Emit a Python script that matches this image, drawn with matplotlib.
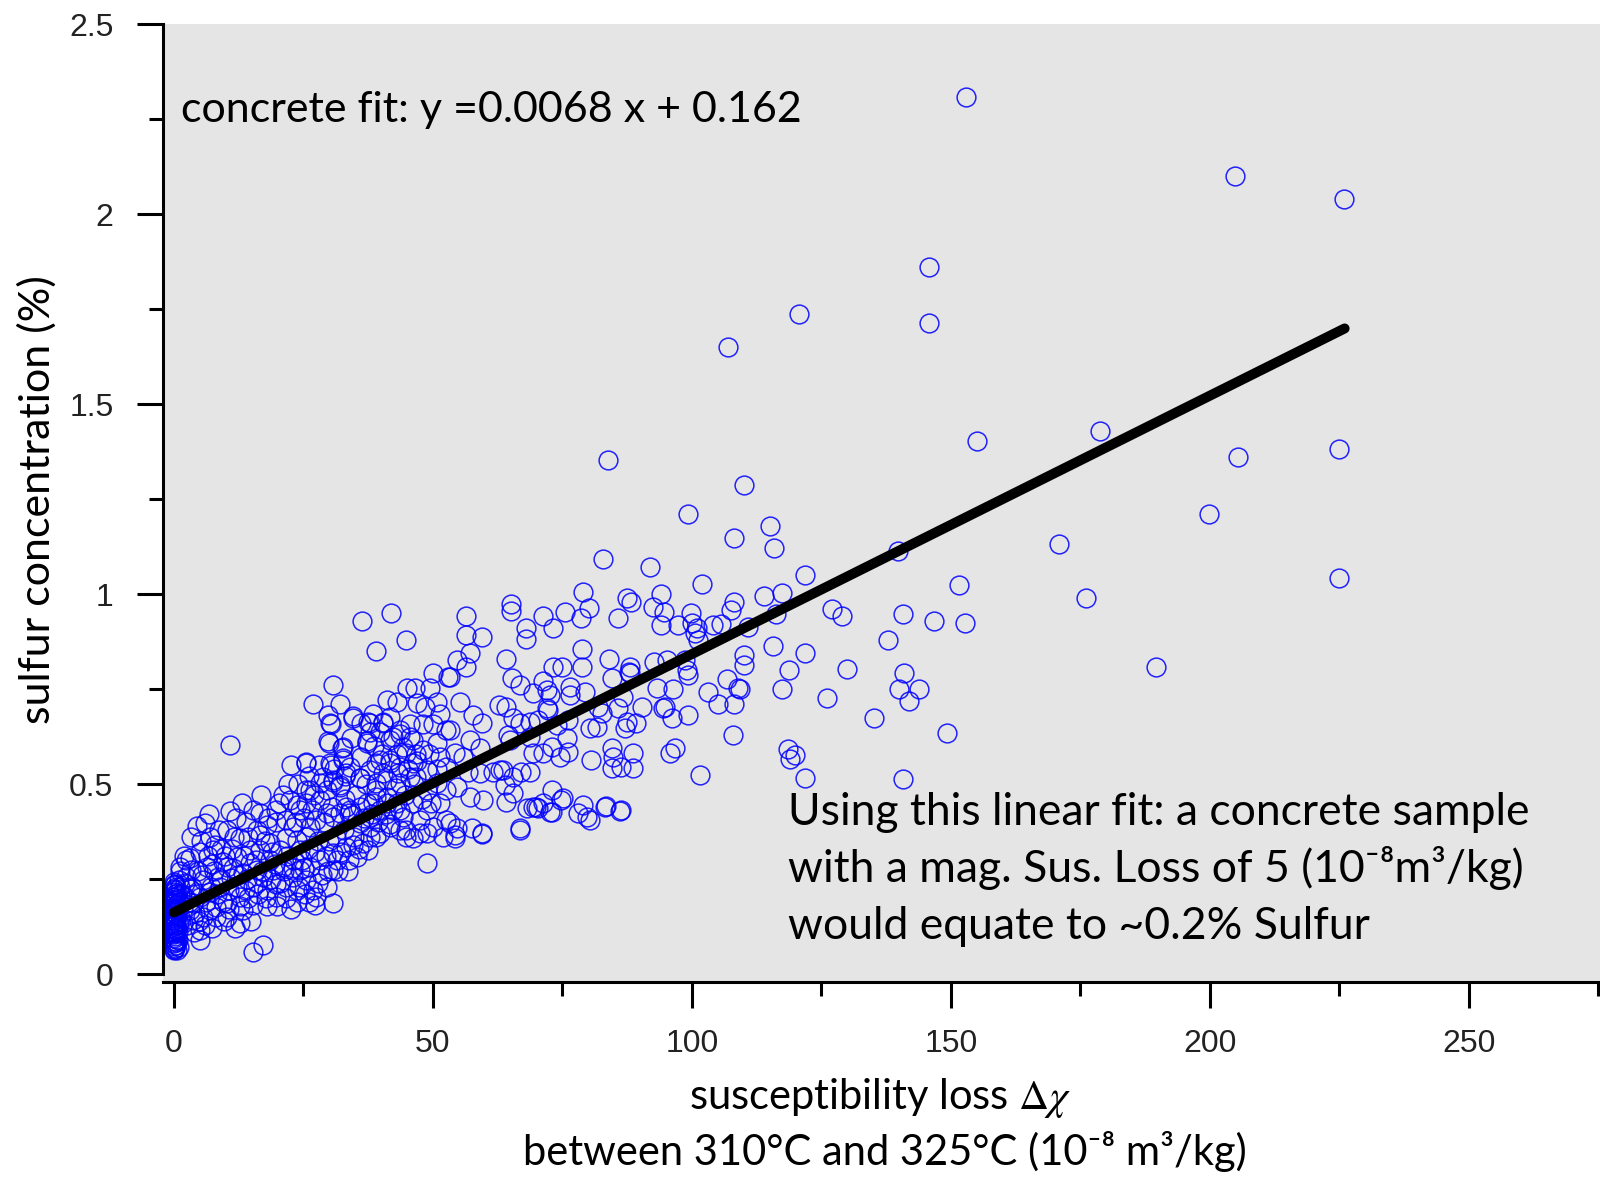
import matplotlib
matplotlib.use("Agg")
import matplotlib.pyplot as plt

# susceptibility loss (x) / sulfur concentration (y)
# samples with (almost) no loss -> solid blob at x = 0
zero_pts = [(0.0, 0.066), (0.3, 0.069), (0.1, 0.073), (0.5, 0.077), (0.0, 0.081), (0.4, 0.085),
            (0.2, 0.088), (0.6, 0.092), (0.0, 0.096), (0.3, 0.100), (0.1, 0.104), (0.5, 0.107),
            (0.0, 0.111), (0.4, 0.115), (0.2, 0.119), (0.6, 0.122), (0.0, 0.126), (0.3, 0.130),
            (0.1, 0.134), (0.5, 0.137), (0.0, 0.141), (0.4, 0.145), (0.2, 0.149), (0.6, 0.152),
            (0.0, 0.156), (0.3, 0.160), (0.1, 0.164), (0.5, 0.168), (0.0, 0.171), (0.4, 0.175),
            (0.2, 0.179), (0.6, 0.183), (0.0, 0.187), (0.3, 0.190), (0.1, 0.194), (0.5, 0.198),
            (0.0, 0.202), (0.4, 0.206), (0.2, 0.210), (0.6, 0.213), (0.0, 0.217), (0.3, 0.221),
            (0.1, 0.225), (0.5, 0.229), (0.0, 0.233), (0.2, 0.238), (0.1, 0.243), (1.0, 0.070),
            (0.8, 0.110), (1.1, 0.150), (0.9, 0.190), (1.2, 0.230), (0.7, 0.090), (1.0, 0.130),
            (0.8, 0.170), (1.1, 0.210), (0.9, 0.248), (0.0, 0.062), (0.6, 0.064)]

# low-loss cluster (x < ~53)
low_pts = [(10.8, 0.603), (6.0, 0.397), (10.2, 0.379), (12.0, 0.410), (6.9, 0.361), (3.1, 0.304),
           (5.0, 0.322), (7.6, 0.326), (3.4, 0.274), (6.3, 0.282), (9.5, 0.295), (12.1, 0.309),
           (14.7, 0.326), (15.3, 0.432), (16.6, 0.423), (17.9, 0.392), (19.8, 0.401), (12.7, 0.357),
           (14.4, 0.361), (16.6, 0.366), (10.2, 0.282), (8.6, 0.256), (5.7, 0.247), (3.1, 0.225),
           (5.0, 0.203), (6.9, 0.216), (8.9, 0.229), (11.1, 0.252), (13.4, 0.265), (16.0, 0.274),
           (18.5, 0.300), (20.5, 0.326), (21.7, 0.357), (21.1, 0.471), (22.4, 0.458), (24.3, 0.432),
           (25.6, 0.484), (23.7, 0.445), (25.5, 0.556), (29.8, 0.612), (30.1, 0.660), (32.4, 0.594),
           (32.7, 0.563), (30.4, 0.550), (28.8, 0.519), (30.8, 0.506), (32.1, 0.497), (29.5, 0.484),
           (28.2, 0.458), (26.6, 0.432), (27.5, 0.405), (29.5, 0.423), (32.1, 0.423), (34.0, 0.432),
           (35.9, 0.515), (33.3, 0.528), (34.0, 0.545), (34.3, 0.418), (35.9, 0.397), (36.5, 0.344),
           (37.5, 0.326), (35.3, 0.309), (33.3, 0.335), (30.8, 0.318), (30.8, 0.274), (28.2, 0.300),
           (26.3, 0.282), (24.3, 0.274), (23.0, 0.256), (21.7, 0.229), (23.7, 0.221), (25.6, 0.247),
           (26.9, 0.221), (27.5, 0.203), (29.5, 0.229), (30.8, 0.186), (27.2, 0.181), (22.7, 0.172),
           (19.8, 0.203), (17.9, 0.221), (15.3, 0.181), (12.7, 0.203), (13.4, 0.168), (10.2, 0.151),
           (12.7, 0.133), (6.9, 0.168), (5.0, 0.116), (5.0, 0.090), (15.3, 0.059), (17.3, 0.077),
           (5.7, 0.151), (3.1, 0.168), (3.7, 0.186), (39.1, 0.554), (40.4, 0.528), (41.7, 0.563),
           (43.3, 0.528), (44.9, 0.581), (42.3, 0.624), (43.6, 0.642), (46.2, 0.616), (39.1, 0.484),
           (41.1, 0.467), (42.3, 0.432), (44.3, 0.414), (44.9, 0.361), (43.6, 0.379), (41.7, 0.388),
           (39.8, 0.432), (38.5, 0.449), (37.8, 0.388), (39.8, 0.370), (46.8, 0.519), (47.5, 0.405),
           (36.2, 0.660), (37.8, 0.660), (40.4, 0.660), (37.2, 0.612), (34.6, 0.673), (1.8, 0.133),
           (2.1, 0.203), (2.4, 0.256), (1.2, 0.282), (3.7, 0.142), (16.6, 0.326), (18.5, 0.344),
           (14.7, 0.291), (17.3, 0.256), (19.2, 0.274), (21.1, 0.282), (19.8, 0.238), (15.3, 0.229),
           (12.1, 0.229), (10.2, 0.186), (8.2, 0.177), (24.3, 0.326), (25.6, 0.361), (23.0, 0.388),
           (26.3, 0.388), (21.7, 0.405), (19.8, 0.432), (23.7, 0.353), (36.4, 0.929), (42.0, 0.949),
           (44.8, 0.879), (39.1, 0.849), (30.8, 0.760), (26.8, 0.710), (32.0, 0.710), (29.8, 0.681),
           (30.4, 0.659), (34.6, 0.680), (37.5, 0.662), (40.4, 0.662), (37.8, 0.637), (37.2, 0.607),
           (30.0, 0.609), (32.7, 0.598), (25.6, 0.559), (30.1, 0.555), (32.7, 0.568), (35.9, 0.515),
           (30.8, 0.510), (28.2, 0.502), (26.3, 0.484), (25.6, 0.449), (32.0, 0.493), (33.3, 0.440),
           (33.9, 0.423), (30.8, 0.414), (41.1, 0.722), (45.0, 0.752), (46.6, 0.752), (50.0, 0.791),
           (52.9, 0.782), (49.4, 0.752), (46.9, 0.713), (48.5, 0.703), (50.7, 0.716), (43.0, 0.716),
           (38.5, 0.685), (41.7, 0.677), (39.8, 0.637), (41.7, 0.615), (43.6, 0.632), (45.6, 0.659),
           (45.6, 0.624), (48.1, 0.659), (50.0, 0.659), (51.4, 0.685), (52.6, 0.642), (50.7, 0.607),
           (48.1, 0.589), (46.8, 0.580), (44.3, 0.598), (43.0, 0.580), (41.7, 0.554), (43.6, 0.546),
           (46.2, 0.554), (48.8, 0.537), (51.4, 0.572), (52.6, 0.546), (39.8, 0.563), (37.8, 0.537),
           (39.1, 0.502), (41.1, 0.510), (43.6, 0.502), (45.6, 0.519), (48.8, 0.484), (50.7, 0.502),
           (52.6, 0.484), (51.4, 0.449), (48.8, 0.431), (46.2, 0.449), (43.6, 0.431), (41.1, 0.449),
           (39.1, 0.466), (37.2, 0.449), (37.8, 0.414), (41.7, 0.396), (44.9, 0.379), (47.5, 0.370),
           (50.0, 0.388), (52.6, 0.405), (51.9, 0.361), (39.1, 0.361), (1.5, 0.210), (1.8, 0.170),
           (2.2, 0.240), (2.6, 0.130), (1.2, 0.270), (2.9, 0.190), (3.5, 0.230), (4.1, 0.160),
           (4.6, 0.270), (3.9, 0.110), (2.4, 0.300), (5.5, 0.260), (6.2, 0.190), (7.1, 0.230),
           (7.8, 0.270), (8.4, 0.210), (9.1, 0.250), (9.8, 0.310), (6.6, 0.310), (11.5, 0.280),
           (10.6, 0.220), (12.3, 0.260), (13.8, 0.220), (11.2, 0.330), (8.0, 0.340), (5.2, 0.350),
           (15.8, 0.300), (17.0, 0.270), (18.8, 0.250), (14.2, 0.250), (16.3, 0.210), (19.5, 0.290),
           (20.4, 0.240), (21.8, 0.310), (22.9, 0.280), (24.7, 0.300), (25.9, 0.330), (27.8, 0.350),
           (29.4, 0.310), (31.2, 0.360), (32.9, 0.380), (34.8, 0.360), (36.7, 0.410), (38.2, 0.420),
           (28.6, 0.260), (31.7, 0.270), (33.8, 0.300), (26.0, 0.190), (24.1, 0.230), (18.0, 0.180),
           (14.8, 0.140), (9.6, 0.140), (11.8, 0.120), (7.3, 0.120), (2.0, 0.310), (3.3, 0.360),
           (4.4, 0.390), (6.8, 0.420), (8.8, 0.380), (10.9, 0.430), (13.1, 0.450), (14.0, 0.400),
           (16.9, 0.470), (18.1, 0.410), (20.3, 0.450), (22.0, 0.500), (23.5, 0.400), (25.1, 0.410),
           (27.0, 0.470), (28.9, 0.400), (30.5, 0.440), (33.0, 0.460), (35.2, 0.470), (36.0, 0.440),
           (37.0, 0.500), (34.5, 0.340), (32.2, 0.320), (29.9, 0.350), (27.3, 0.320), (25.2, 0.280),
           (23.1, 0.300), (21.2, 0.270), (19.0, 0.320), (17.6, 0.350), (16.0, 0.380), (13.6, 0.310),
           (11.6, 0.360), (9.0, 0.330), (7.4, 0.290), (4.3, 0.210), (4.9, 0.140), (6.1, 0.130),
           (8.1, 0.150), (9.4, 0.190), (10.7, 0.170), (12.8, 0.180), (14.3, 0.200), (16.1, 0.240),
           (17.8, 0.200), (20.0, 0.180), (21.6, 0.200), (23.8, 0.190), (25.4, 0.210), (27.9, 0.240),
           (29.8, 0.270), (31.5, 0.300), (33.6, 0.270), (35.8, 0.330), (37.9, 0.360), (39.5, 0.400),
           (41.0, 0.420), (43.1, 0.450), (44.6, 0.470), (46.3, 0.500), (47.9, 0.460), (49.6, 0.450),
           (45.2, 0.540), (47.0, 0.560), (49.2, 0.580), (50.8, 0.540), (42.8, 0.490), (40.2, 0.580),
           (38.6, 0.600), (36.1, 0.570), (34.1, 0.620), (33.0, 0.520), (31.0, 0.540), (28.0, 0.550),
           (26.1, 0.520), (24.0, 0.500), (22.7, 0.550)]

# mid cluster (x ~ 45-105)
mid_pts = [(79.0, 1.005), (87.4, 0.989), (88.2, 0.980), (94.0, 1.000), (92.4, 0.967), (94.7, 0.952),
           (94.1, 0.918), (97.4, 0.918), (99.9, 0.949), (100.9, 0.910), (101.2, 0.879), (104.1, 0.918),
           (85.8, 0.936), (80.1, 0.962), (78.6, 0.936), (75.5, 0.952), (71.3, 0.942), (73.1, 0.911),
           (65.1, 0.973), (65.1, 0.955), (67.9, 0.910), (68.0, 0.881), (56.4, 0.942), (56.4, 0.892),
           (59.4, 0.888), (57.1, 0.844), (54.6, 0.826), (56.4, 0.809), (64.2, 0.828), (78.7, 0.854),
           (78.7, 0.809), (84.0, 0.828), (88.0, 0.809), (88.0, 0.791), (92.7, 0.822), (95.1, 0.826),
           (98.6, 0.826), (99.0, 0.800), (99.3, 0.787), (100.6, 0.897), (73.2, 0.809), (75.0, 0.809),
           (65.2, 0.778), (66.8, 0.761), (71.3, 0.770), (72.0, 0.747), (69.4, 0.739), (72.6, 0.734),
           (72.0, 0.699), (76.4, 0.756), (76.4, 0.734), (79.3, 0.743), (84.5, 0.778), (87.9, 0.796),
           (90.3, 0.703), (93.2, 0.752), (96.4, 0.749), (94.5, 0.699), (96.1, 0.673), (99.3, 0.682),
           (62.8, 0.708), (64.2, 0.703), (55.2, 0.717), (53.3, 0.782), (57.8, 0.682), (59.4, 0.660),
           (65.5, 0.673), (66.8, 0.660), (68.7, 0.664), (70.3, 0.668), (72.3, 0.695), (73.9, 0.655),
           (76.1, 0.668), (80.3, 0.647), (81.6, 0.651), (82.6, 0.686), (81.9, 0.703), (85.8, 0.699),
           (86.7, 0.730), (87.4, 0.664), (87.1, 0.647), (89.3, 0.660), (64.5, 0.629), (72.9, 0.598),
           (76.1, 0.585), (75.8, 0.620), (80.6, 0.563), (84.5, 0.594), (84.8, 0.572), (84.5, 0.541),
           (86.4, 0.546), (88.7, 0.581), (88.7, 0.541), (95.8, 0.581), (96.7, 0.594), (94.8, 0.703),
           (54.6, 0.493), (57.1, 0.467), (59.7, 0.458), (64.2, 0.453), (65.5, 0.476), (68.1, 0.436),
           (70.3, 0.436), (72.6, 0.427), (72.9, 0.484), (74.8, 0.458), (79.0, 0.445), (79.7, 0.414),
           (83.2, 0.440), (86.4, 0.432), (61.6, 0.532), (63.6, 0.537), (67.1, 0.532), (68.7, 0.532),
           (63.9, 0.497), (59.4, 0.370), (66.9, 0.383), (54.6, 0.383), (78.0, 0.423), (80.3, 0.405),
           (83.5, 0.443), (86.2, 0.429), (75.1, 0.462), (69.4, 0.440), (71.3, 0.449), (48.8, 0.291),
           (66.8, 0.379), (59.4, 0.368), (54.2, 0.366), (54.2, 0.357), (57.5, 0.384), (48.8, 0.370),
           (46.2, 0.357), (53.3, 0.397), (72.9, 0.427), (70.0, 0.440), (53.3, 0.642), (57.1, 0.616),
           (54.2, 0.581), (55.9, 0.572), (59.1, 0.594), (56.8, 0.532), (59.1, 0.528), (64.9, 0.616),
           (62.9, 0.537), (65.5, 0.519), (74.5, 0.572), (71.3, 0.581), (69.4, 0.581), (68.7, 0.625)]

# sparse, high-loss samples
high_pts = [(153.0, 2.308), (204.8, 2.099), (225.9, 2.040), (145.7, 1.860), (145.7, 1.712),
            (120.6, 1.736), (106.9, 1.650), (155.0, 1.403), (178.8, 1.430), (224.9, 1.382),
            (205.4, 1.360), (199.9, 1.210), (170.9, 1.132), (224.9, 1.041), (151.6, 1.024),
            (176.0, 0.990), (152.8, 0.925), (146.7, 0.930), (140.7, 0.948), (137.8, 0.878),
            (139.8, 1.113), (189.6, 0.807), (141.0, 0.791), (140.0, 0.750), (142.0, 0.718),
            (143.9, 0.750), (149.2, 0.635), (140.8, 0.514), (135.1, 0.675), (126.0, 0.726),
            (130.0, 0.802), (127.0, 0.960), (129.0, 0.941), (121.9, 0.845), (118.7, 0.799),
            (121.9, 1.051), (117.3, 0.750), (110.0, 1.288), (115.1, 1.180), (115.9, 1.121),
            (108.1, 1.148), (99.2, 1.210), (83.8, 1.352), (82.9, 1.091), (91.9, 1.070),
            (101.9, 1.027), (117.3, 1.003), (114.0, 0.996), (116.2, 0.947), (108.1, 0.978),
            (107.5, 0.957), (105.7, 0.920), (100.0, 0.925), (115.6, 0.863), (110.0, 0.839),
            (110.0, 0.812), (107.9, 0.630), (101.6, 0.525), (118.5, 0.592), (119.9, 0.576),
            (118.9, 0.565), (121.9, 0.517), (109.2, 0.750), (106.7, 0.777), (105.0, 0.710),
            (108.2, 0.710), (103.2, 0.742), (108.9, 0.752), (110.9, 0.914)]

# concrete fit: y = 0.0068 x + 0.162, drawn over the data range
fit_slope = 0.0068
fit_intercept = 0.162
fit_x = [0, 226]

xticks = [0, 50, 100, 150, 200, 250]
xminor = [25, 75, 125, 175, 225, 275]
yticks = [0, 0.5, 1, 1.5, 2, 2.5]
ytick_labels = ["0", "0.5", "1", "1.5", "2", "2.5"]
yminor = [0.25, 0.75, 1.25, 1.75, 2.25]

W, H = 1600, 1179
plt.rcParams['mathtext.fontset'] = 'stix'
fig = plt.figure(figsize=(W / 100, H / 100), dpi=100)
ax = fig.add_axes([163 / W, 197 / H, 1437 / W, 958 / H])
ax.set_facecolor('#e5e5e5')

pts = zero_pts + low_pts + mid_pts + high_pts
xs = [p[0] for p in pts]
ys = [p[1] for p in pts]
ax.plot(xs, ys, 'o', ls='none', ms=13.5, mfc='none', mec='#0000ff', mew=1.1, alpha=0.85)

fit_y = [fit_intercept + fit_slope * v for v in fit_x]
ax.plot(fit_x, fit_y, color='black', lw=7.2, solid_capstyle='round')

ax.set_xlim(-2.1, 275.3)
ax.set_ylim(-0.021, 2.5)

for s in ['top', 'right']:
    ax.spines[s].set_visible(False)
for s in ['left', 'bottom']:
    ax.spines[s].set_linewidth(2.2)
ax.spines['left'].set_bounds(0, 2.5)

ax.set_xticks(xticks)
ax.set_xticks(xminor, minor=True)
ax.set_yticks(yticks)
ax.set_yticklabels(ytick_labels)
ax.set_yticks(yminor, minor=True)
ax.tick_params(which='major', length=18.7, width=2.2, direction='out')
ax.tick_params(which='minor', length=10, width=2.2, direction='out')
ax.tick_params(axis='y', which='major', pad=17)
ax.tick_params(axis='x', which='major', pad=15)
for lab in ax.get_xticklabels() + ax.get_yticklabels():
    lab.set_fontfamily('Liberation Sans')
    lab.set_fontsize(23)
    lab.set_color('#222222')


def px(x, y):
    return x / W, 1 - y / H


txt_font = ['Lato', 'DejaVu Sans']
fig.text(*px(181, 122), "concrete fit: y =0.0068 x + 0.162", family=txt_font, fontsize=31,
         va='baseline', ha='left')
notes = ["Using this linear fit: a concrete sample",
         "with a mag. Sus. Loss of 5 (10\u207b\u2078m\u00b3/kg)",
         "would equate to ~0.2% Sulfur"]
for i, line in enumerate(notes):
    fig.text(*px(788, 825 + 57 * i), line, family=txt_font, fontsize=32, va='baseline', ha='left')

fig.text(*px(880, 1109), r"susceptibility loss $\Delta\chi$", family=txt_font, fontsize=30,
         va='baseline', ha='center')
fig.text(*px(885, 1165), "between 310\u00b0C and 325\u00b0C (10\u207b\u2078 m\u00b3/kg)", family=txt_font,
         fontsize=30, va='baseline', ha='center')
fig.text(*px(37, 500), "sulfur concentration (%)", family=txt_font, fontsize=31,
         rotation=90, va='center', ha='center')

fig.savefig("out.png", dpi=100)
